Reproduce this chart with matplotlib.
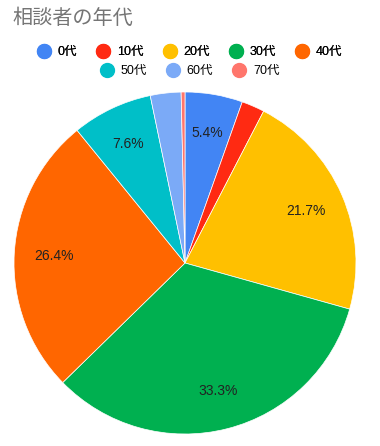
import matplotlib.pyplot as plt
from matplotlib.lines import Line2D

plt.rcParams['font.family'] = ['Liberation Sans', 'Noto Sans CJK JP', 'DejaVu Sans']

# 年代別の人数
labels = ['0代', '10代', '20代', '30代', '40代', '50代', '60代', '70代']
counts = [15, 6, 60, 92, 73, 21, 8, 1]
colors = ['#4285F4', '#FF2A12', '#FFC000', '#00B050', '#FF6600',
          '#00BFC8', '#7BAAF7', '#FF766C']

fig = plt.figure(figsize=(3.8, 4.46), dpi=100)
ax = fig.add_axes([(185 - 171) / 380, (446 - 263 - 171) / 446, 342 / 380, 342 / 446])

def fmt(p):
    return f'{p:.1f}%' if p >= 5 else ''

wedges, texts, autotexts = ax.pie(
    counts, colors=colors, startangle=90, counterclock=False,
    autopct=fmt, pctdistance=0.77,
    wedgeprops=dict(edgecolor='white', linewidth=0.5),
    textprops=dict(fontsize=10, color='#222222'))
ax.set_aspect('equal')
ax.set_xlim(-1, 1)
ax.set_ylim(-1, 1)

fig.text(12 / 380, 1 - 18 / 446, '相談者の年代', fontsize=14.5, color='#757575',
         va='center', ha='left', family=['Noto Sans CJK JP'])

handles = [Line2D([], [], marker='o', linestyle='', markersize=10,
                  markerfacecolor=c, markeredgecolor=c) for c in colors]

leg_kw = dict(loc='center', frameon=False, fontsize=9, handletextpad=0.6,
              columnspacing=1.6, handlelength=1.0, borderaxespad=0, borderpad=0)
leg1 = fig.legend(handles[:5], labels[:5], ncol=5,
                  bbox_to_anchor=(0.5, 1 - 52 / 446), **leg_kw)
leg2 = fig.legend(handles[5:], labels[5:], ncol=3,
                  bbox_to_anchor=(0.5, 1 - 71 / 446), **leg_kw)
fig.add_artist(leg1)

fig.savefig('out.png', dpi=100)
